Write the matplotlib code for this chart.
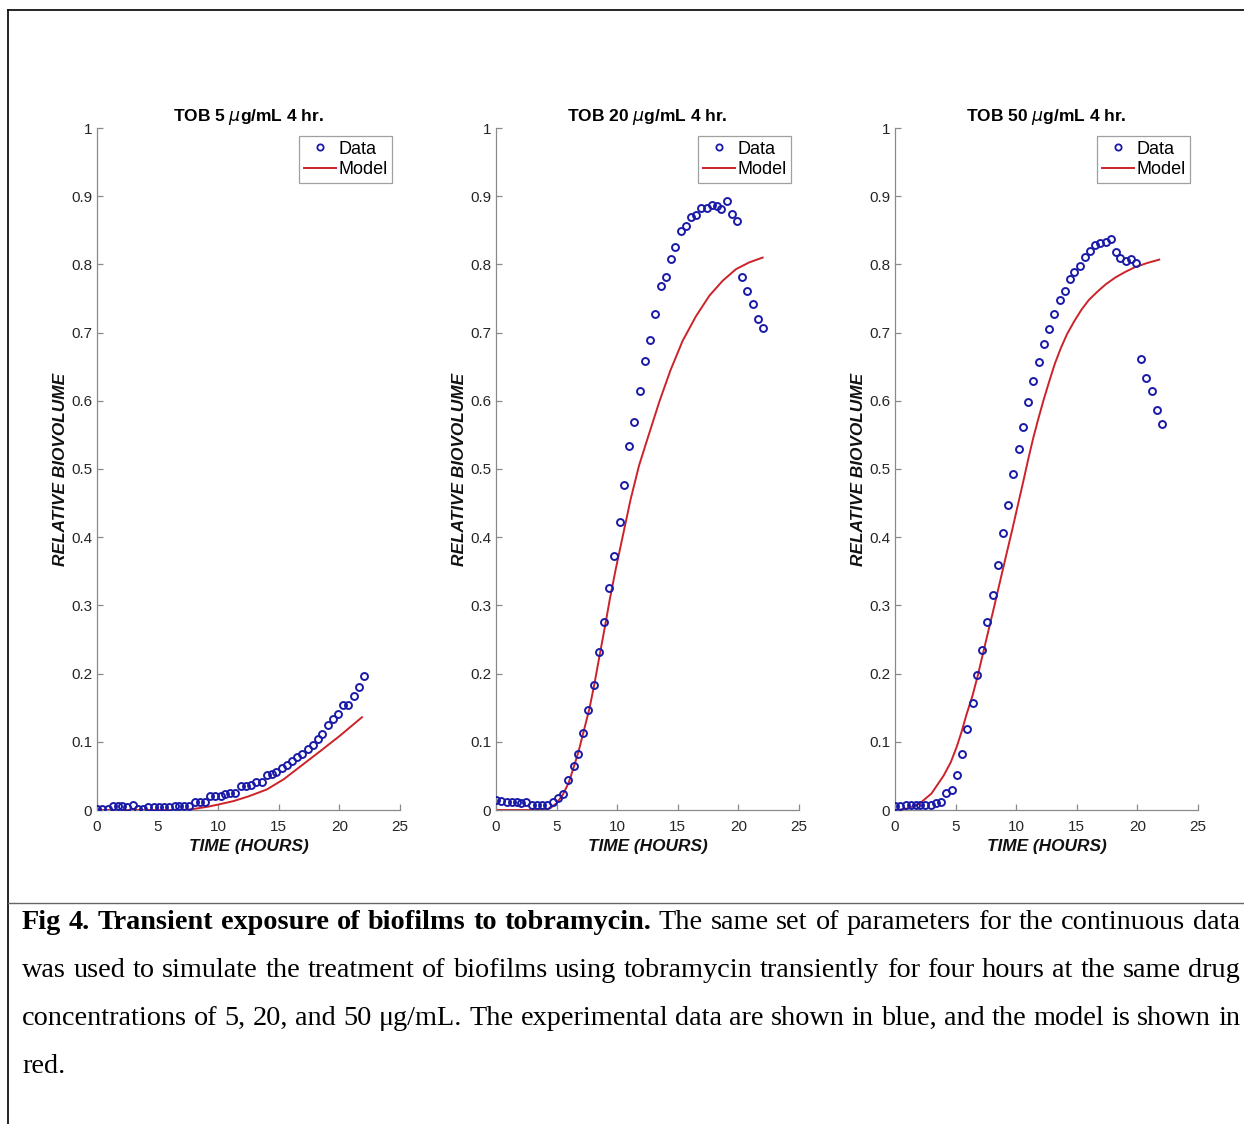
import matplotlib
matplotlib.use("Agg")
import matplotlib.pyplot as plt
from matplotlib.lines import Line2D

# sampling times (hours), shared by the three experiments
time_h = [0.0, 0.4, 0.9, 1.3, 1.7, 2.1, 2.5, 3.0, 3.4, 3.8, 4.2, 4.7, 5.1, 5.5, 5.9,
          6.4, 6.8, 7.2, 7.6, 8.1, 8.5, 8.9, 9.3, 9.7, 10.2, 10.6, 11.0, 11.4, 11.9,
          12.3, 12.7, 13.1, 13.6, 14.0, 14.4, 14.8, 15.3, 15.7, 16.1, 16.5, 16.9,
          17.4, 17.8, 18.2, 18.6, 19.1, 19.5, 19.9, 20.3, 20.7, 21.2, 21.6, 22.0]

tob5_data = [0.001, 0.001, 0.0015, 0.006, 0.0064, 0.0064, 0.004, 0.007, 0.002, 0.002,
             0.005, 0.005, 0.005, 0.005, 0.005, 0.006, 0.006, 0.006, 0.006, 0.011,
             0.011, 0.011, 0.020, 0.020, 0.020, 0.023, 0.025, 0.025, 0.035, 0.035,
             0.036, 0.041, 0.041, 0.052, 0.053, 0.055, 0.061, 0.066, 0.072, 0.077,
             0.082, 0.089, 0.096, 0.104, 0.112, 0.124, 0.133, 0.141, 0.154, 0.154,
             0.167, 0.180, 0.196]
tob20_data = [0.014, 0.013, 0.012, 0.012, 0.012, 0.010, 0.012, 0.008, 0.008, 0.008,
              0.007, 0.011, 0.018, 0.024, 0.044, 0.065, 0.082, 0.113, 0.146, 0.183,
              0.231, 0.276, 0.325, 0.373, 0.423, 0.476, 0.533, 0.569, 0.614, 0.659,
              0.689, 0.728, 0.769, 0.781, 0.808, 0.826, 0.849, 0.856, 0.869, 0.872,
              0.882, 0.882, 0.887, 0.886, 0.881, 0.893, 0.874, 0.864, 0.781, 0.761,
              0.742, 0.720, 0.707]
tob50_data = [0.006, 0.006, 0.007, 0.007, 0.007, 0.007, 0.007, 0.007, 0.010, 0.012,
              0.025, 0.030, 0.051, 0.082, 0.119, 0.157, 0.198, 0.235, 0.276, 0.315,
              0.359, 0.406, 0.447, 0.493, 0.530, 0.561, 0.598, 0.629, 0.657, 0.683,
              0.706, 0.728, 0.748, 0.761, 0.778, 0.789, 0.798, 0.811, 0.820, 0.828,
              0.831, 0.833, 0.837, 0.818, 0.810, 0.805, 0.808, 0.802, 0.662, 0.634,
              0.615, 0.587, 0.566]

# model curves
tob5_model_t = [0, 7, 7.8, 8.5, 9.2, 10, 11.25, 12.5, 14, 15.4, 16.75, 18.4, 20.05, 21.86]
tob5_model = [0, 0, 0.001, 0.003, 0.005, 0.008, 0.013, 0.02, 0.03, 0.045, 0.0635, 0.086,
              0.109, 0.136]
tob20_model_t = [0, 4.0, 4.5, 5.0, 5.5, 6.0, 6.4, 6.8, 7.2, 7.7, 8.1, 8.5, 9.0, 9.4, 9.9,
                 10.5, 11.1, 11.8, 12.6, 13.5, 14.4, 15.4, 16.5, 17.6, 18.7, 19.8, 20.9,
                 22.0]
tob20_model = [0, 0, 0.003, 0.01, 0.022, 0.04, 0.062, 0.085, 0.113, 0.148, 0.183, 0.222,
               0.27, 0.31, 0.355, 0.405, 0.455, 0.505, 0.55, 0.6, 0.645, 0.688, 0.724,
               0.754, 0.776, 0.793, 0.803, 0.81]
tob50_model_t = [0.2, 1.0, 2.0, 3.0, 4.0, 4.6, 5.1, 5.5, 5.9, 6.4, 6.8, 7.2, 7.6, 8.1, 8.6,
                 9.1, 9.7, 10.2, 10.6, 11.0, 11.4, 11.8, 12.24, 12.7, 13.2, 13.7, 14.2,
                 14.8, 15.4, 16.0, 16.7, 17.4, 18.2, 19.0, 19.8, 20.8, 21.8]
tob50_model = [0, 0.002, 0.009, 0.024, 0.05, 0.07, 0.093, 0.115, 0.14, 0.168, 0.195,
               0.225, 0.255, 0.292, 0.33, 0.368, 0.413, 0.452, 0.483, 0.515, 0.545, 0.572,
               0.6, 0.627, 0.655, 0.678, 0.698, 0.717, 0.734, 0.748, 0.76, 0.771, 0.781,
               0.789, 0.796, 0.802, 0.807]

titles = ["TOB 5 $\\mu$g/mL 4 hr.", "TOB 20 $\\mu$g/mL 4 hr.", "TOB 50 $\\mu$g/mL 4 hr."]
yticks = [0, 0.1, 0.2, 0.3, 0.4, 0.5, 0.6, 0.7, 0.8, 0.9, 1]
ytick_labels = ["0", "0.1", "0.2", "0.3", "0.4", "0.5", "0.6", "0.7", "0.8", "0.9", "1"]
xticks = [0, 5, 10, 15, 20, 25]

W, H = 1244, 1124
blue = "#1a1aa8"
red = "#cc2229"
sans = "Liberation Sans"
serif = "Liberation Serif"

fig = plt.figure(figsize=(W / 100, H / 100), dpi=100)

panels = [(titles[0], tob5_data, tob5_model_t, tob5_model, 97),
          (titles[1], tob20_data, tob20_model_t, tob20_model, 496),
          (titles[2], tob50_data, tob50_model_t, tob50_model, 895)]

for title, data, mt, mv, left in panels:
    ax = fig.add_axes([left / W, 1 - 810 / H, 303 / W, 682 / H])
    ax.plot(mt, mv, color=red, lw=1.4, zorder=2)
    ax.plot(time_h, data, "o", mfc="none", mec=blue, ms=5, mew=1.4, zorder=3)
    ax.set_xlim(0, 25)
    ax.set_ylim(0, 1)
    ax.set_xticks(xticks)
    ax.set_xticklabels([str(x) for x in xticks], family=sans)
    ax.set_yticks(yticks)
    ax.set_yticklabels(ytick_labels, family=sans)
    for s in ["top", "right"]:
        ax.spines[s].set_visible(False)
    for s in ["left", "bottom"]:
        ax.spines[s].set_color("#8a8a8a")
        ax.spines[s].set_linewidth(0.9)
    ax.tick_params(direction="in", length=4, width=0.9, color="#8a8a8a",
                   labelsize=11, labelcolor="#262626")
    ax.tick_params(axis="x", pad=7)
    ax.tick_params(axis="y", pad=3.5)
    ax.set_title(title, fontsize=12.5, fontweight="bold", family=sans, pad=5)
    ax.set_xlabel("TIME (HOURS)", fontsize=12.4, fontweight="bold", style="italic",
                  family=sans, labelpad=4, color="#111111")
    ax.set_ylabel("RELATIVE BIOVOLUME", fontsize=12.4, fontweight="bold",
                  style="italic", family=sans, labelpad=2, color="#111111")
    handles = [Line2D([], [], ls="none", marker="o", mfc="none", mec=blue, ms=4.5, mew=1.3),
               Line2D([], [], color=red, lw=1.4)]
    leg = ax.legend(handles, ["Data", "Model"], loc="upper right", fancybox=False,
                    prop={"family": sans, "size": 13}, handlelength=1.8,
                    handletextpad=0.1, borderpad=0.25, labelspacing=0.2,
                    borderaxespad=0.45, framealpha=1)
    leg.get_frame().set_edgecolor("#a0a0a0")
    leg.get_frame().set_linewidth(0.9)

# page frame around the figure and caption separator
fig.add_artist(Line2D([8 / W, 1], [1 - 10 / H, 1 - 10 / H], color="black", lw=1.2))
fig.add_artist(Line2D([8 / W, 8 / W], [0, 1 - 10 / H], color="black", lw=1.2))
fig.add_artist(Line2D([8 / W, 1], [1 - 903 / H, 1 - 903 / H], color="#666666", lw=1.0))

# caption, justified line by line
bold_part = "Fig 4. Transient exposure of biofilms to tobramycin."
cap_line1 = "The same set of parameters for the continuous data"
cap_line2 = ("was used to simulate the treatment of biofilms using "
             "tobramycin transiently for four hours at the same drug")
cap_line3 = ("concentrations of 5, 20, and 50 \u03bcg/mL. The experimental "
             "data are shown in blue, and the model is shown in")
cap_line4 = "red."

renderer = fig.canvas.get_renderer()
probe = fig.text(0, 0, cap_line2, fontsize=18, family=serif)
natural = probe.get_window_extent(renderer).width
probe.remove()
cap_size = 18 * 1212 / natural


def justified(words, y_px, x0=22, x1=1240, stretch=True):
    texts = [fig.text(0, 1 - y_px / H, w, fontsize=cap_size, family=serif,
                      weight=wt, va="baseline") for w, wt in words]
    widths = [t.get_window_extent(renderer).width for t in texts]
    if stretch and len(texts) > 1:
        gap = (x1 - x0 - sum(widths)) / (len(texts) - 1)
    else:
        gap = cap_size * 0.25 * 100 / 72
    x = x0
    for t, w in zip(texts, widths):
        t.set_x(x / W)
        x += w + gap


justified([(w, "bold") for w in bold_part.split()] +
          [(w, "normal") for w in cap_line1.split()], 929)
justified([(w, "normal") for w in cap_line2.split()], 977)
justified([(w, "normal") for w in cap_line3.split()], 1025)
justified([(cap_line4, "normal")], 1073, stretch=False)

fig.savefig("out.png", dpi=100)
